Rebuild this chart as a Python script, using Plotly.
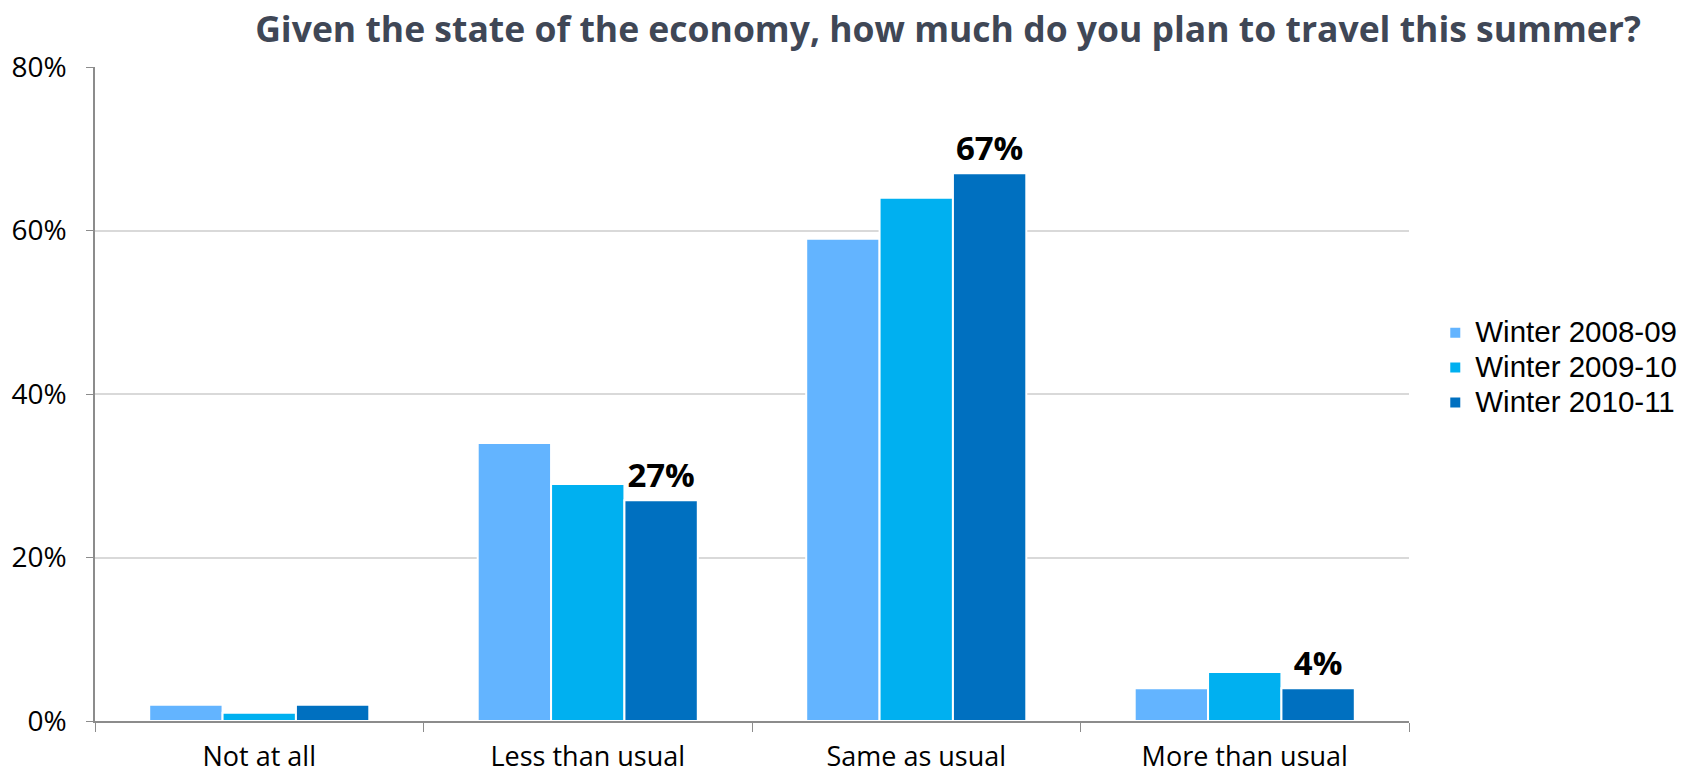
import plotly.graph_objects as go

categories = ["Not at all", "Less than usual", "Same as usual", "More than usual"]
series_names = ["Winter 2008-09", "Winter 2009-10", "Winter 2010-11"]
s2008 = [2, 34, 59, 4]
s2009 = [1, 29, 64, 6]
s2010 = [2, 27, 67, 4]
s2010_labels = ["", "27%", "67%", "4%"]
colors = ["#63B4FF", "#00B0F0", "#0070C0"]

fig = go.Figure()
for name, vals, col in zip(series_names, [s2008, s2009, s2010], colors):
    kw = {}
    if name == "Winter 2010-11":
        kw = dict(text=s2010_labels, textposition="outside",
                  textfont=dict(family="Open Sans", size=33, color="#000000", weight="bold"),
                  cliponaxis=False)
    fig.add_trace(go.Bar(x=categories, y=vals,
                         name=f'<span style="font-size:29.5px">{name}</span>',
                         marker=dict(color=col, line=dict(color="white", width=2)),
                         **kw))

fig.update_layout(
    width=1700, height=776,
    margin=dict(l=95, r=291, t=67, b=55),
    paper_bgcolor="white", plot_bgcolor="white",
    barmode="group", bargap=0.33, bargroupgap=0,
    font=dict(family="Open Sans", size=28, color="#000000"),
    title=dict(text="<b>Given the state of the economy, how much do you plan to travel this summer?</b>",
               x=948/1700, xanchor="center", y=1-30/776, yanchor="middle",
               font=dict(family="Open Sans", size=35.5, color="#3F4756")),
    legend=dict(x=1.02, xanchor="left", y=0.54, yanchor="middle",
                font=dict(family="Liberation Sans", size=24.5), itemwidth=30, tracegroupgap=0),
    uniformtext=dict(mode=False),
)
fig.update_yaxes(range=[0, 80], tickvals=[0, 20, 40, 60, 80],
                 ticktext=["0%", "20%", "40%", "60%", "80%"],
                 showgrid=True, gridcolor="#D9D9D9", gridwidth=1.5,
                 showline=True, linecolor="#8C8C8C", linewidth=1.5,
                 ticks="outside", ticklen=7, tickcolor="#8C8C8C",
                 zeroline=False, ticklabelstandoff=14, automargin=False)
fig.update_xaxes(showline=True, linecolor="#8C8C8C", linewidth=1.5,
                 ticks="outside", tickson="boundaries", ticklen=9, tickcolor="#8C8C8C",
                 tickfont=dict(size=27),
                 ticklabelstandoff=11, automargin=False)
fig.write_html("out.html")
